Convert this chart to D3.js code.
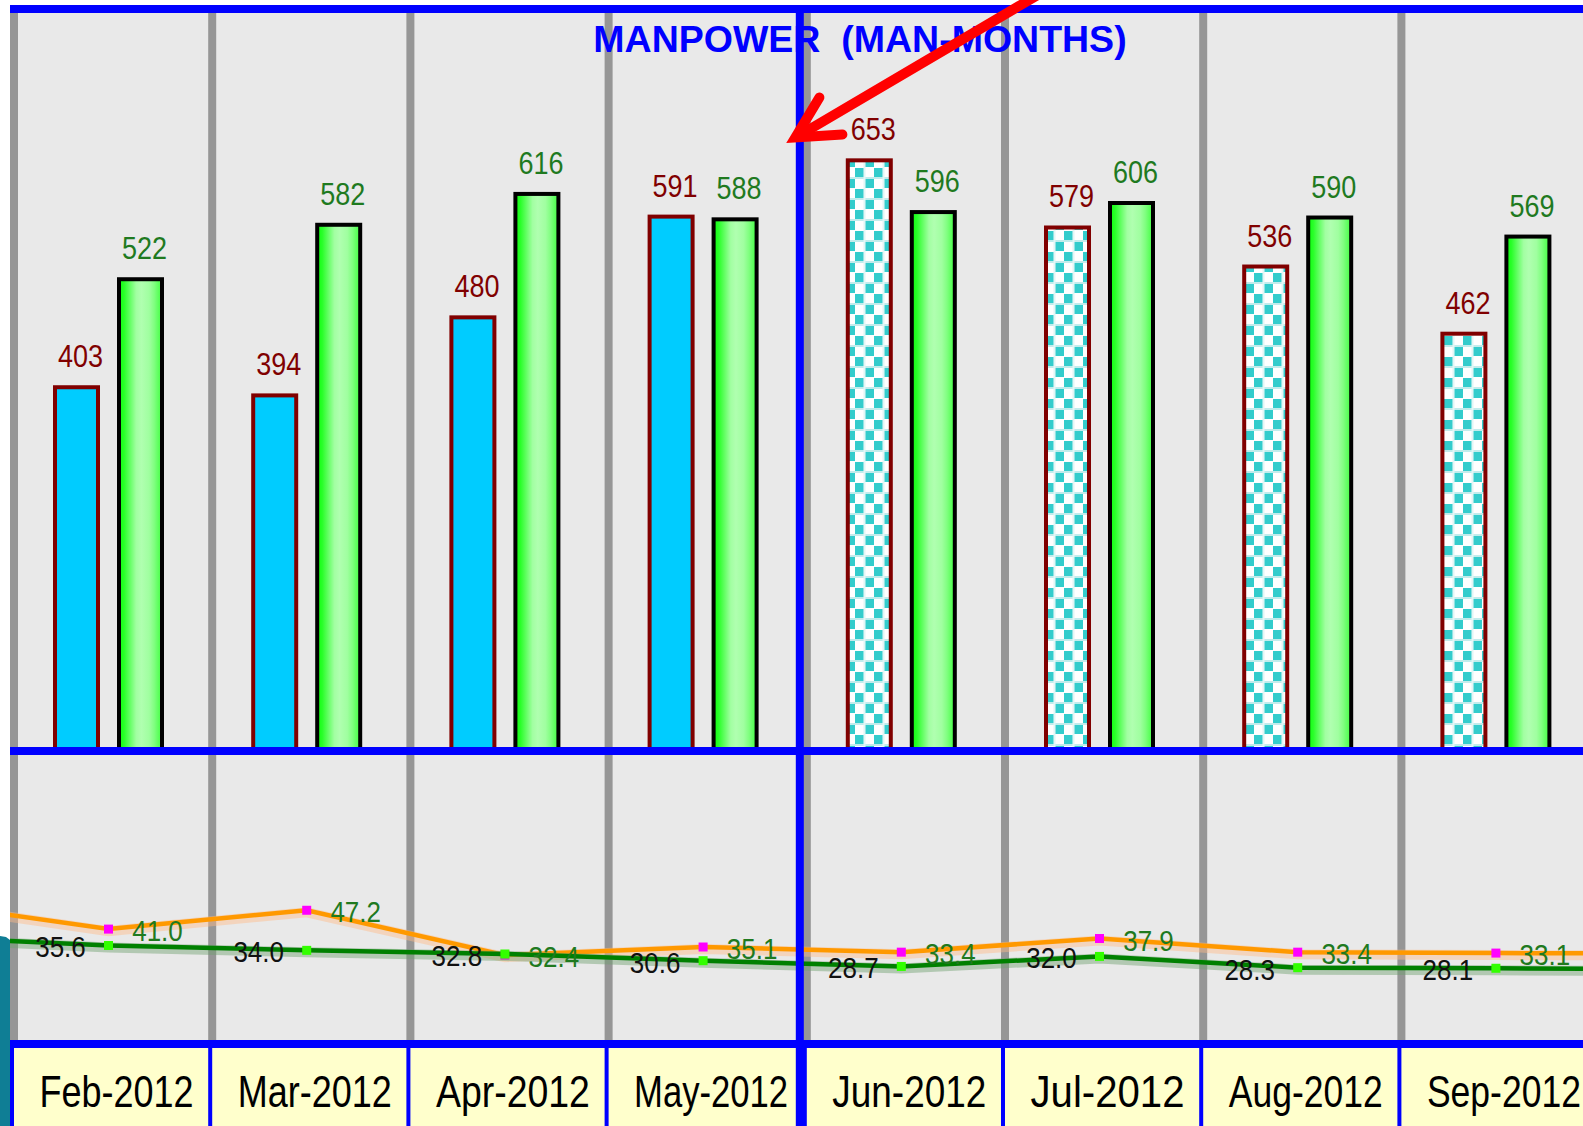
<!DOCTYPE html>
<html>
<head>
<meta charset="utf-8">
<script src="https://cdn.jsdelivr.net/npm/d3@7/dist/d3.min.js"></script>
<style>
  html, body { margin: 0; padding: 0; background: #ffffff; overflow: hidden; }
  svg { display: block; }
  text { font-family: "Liberation Sans", Arial, sans-serif; }
</style>
</head>
<body>
<div id="chart"></div>
<script>
// ---------- DATA ----------
const months = ["Feb-2012", "Mar-2012", "Apr-2012", "May-2012", "Jun-2012", "Jul-2012", "Aug-2012", "Sep-2012"];
const actualValues = [403, 394, 480, 591, 653, 579, 536, 462];      // blue / checker bars (dark red labels)
const planValues = [522, 582, 616, 588, 596, 606, 590, 569];        // green bars
const forecastFrom = "Jun-2012";                                     // checker-pattern bars from here on
const orangeValues = [41.0, 47.2, 32.4, 35.1, 33.4, 37.9, 33.4, 33.1]; // orange line, magenta markers
const greenValues = [35.6, 34.0, 32.8, 30.6, 28.7, 32.0, 28.3, 28.1];  // green line, lime markers
// neighbouring months that only show as line segments entering / leaving the view
const prevMonth = "Jan-2012", nextMonth = "Oct-2012";
const orangeEdge = [50.4, 33.0];
const greenEdge = [38.6, 27.8];
const titleText = "MANPOWER  (MAN-MONTHS)";

// ---------- LAYOUT ----------
const W = 1583, H = 1126;
const plotLeft = 10;
const topLine = 5, midLine = 747, botLine = 1040, lineW = 8;
const step = 198.2, firstX = 14;

const svg = d3.select("#chart").append("svg").attr("width", W).attr("height", H);
const defs = svg.append("defs");

const x0 = d3.scaleBand().domain(months).range([firstX, firstX + step * months.length]);
const allMonths = [prevMonth, ...months, nextMonth];
const xExt = d3.scaleBand().domain(allMonths).range([firstX - step, firstX + step * (months.length + 1)]);
const x1 = d3.scaleBand().domain(["actual", "plan"]).range([39, 150]).paddingInner(17 / 64);
const groupCenter = 94.5;
const yBar = d3.scaleLinear().domain([0, 700]).range([751, 751 - 700 * 0.9076]);
const yLine = d3.scaleLinear().domain([0, 60]).range([1053.6, 871.4]);

// gradient for green bars
const grad = defs.append("linearGradient").attr("id", "greenGrad")
  .attr("x1", "0%").attr("x2", "100%").attr("y1", "0%").attr("y2", "0%");
[[0, "#0cff0c"], [0.12, "#2aff2a"], [0.26, "#66ff66"], [0.4, "#a2ffa2"], [0.52, "#b0ffb0"],
 [0.7, "#a0ffa0"], [0.82, "#80ff80"], [0.92, "#5cff5c"], [1, "#44ff44"]]
  .forEach(([o, c]) => grad.append("stop").attr("offset", o).attr("stop-color", c));

// checker pattern for forecast bars
const pat = defs.append("pattern").attr("id", "checker").attr("patternUnits", "userSpaceOnUse")
  .attr("width", 19).attr("height", 21);
pat.append("rect").attr("width", 19).attr("height", 21).attr("fill", "#ffffff");
pat.append("rect").attr("x", 0).attr("y", 9).attr("width", 19).attr("height", 2).attr("fill", "#c2ecec");
pat.append("rect").attr("x", 8.5).attr("y", 0).attr("width", 2).attr("height", 21).attr("fill", "#e2f6f6");
pat.append("rect").attr("x", 0).attr("y", 0).attr("width", 8.5).attr("height", 9).attr("fill", "#33cccc");
pat.append("rect").attr("x", 10.5).attr("y", 11).attr("width", 8.5).attr("height", 9).attr("fill", "#33cccc");

defs.append("clipPath").attr("id", "plotClip").append("rect")
  .attr("x", plotLeft).attr("y", topLine + lineW).attr("width", W - plotLeft).attr("height", botLine - topLine - lineW);

// backgrounds
svg.append("rect").attr("x", plotLeft).attr("y", topLine).attr("width", W - plotLeft)
  .attr("height", botLine - topLine).attr("fill", "#e9e9e9");
svg.append("rect").attr("x", plotLeft).attr("y", botLine).attr("width", W - plotLeft)
  .attr("height", H - botLine).attr("fill", "#ffffcc");

// teal corner from the slide behind
svg.append("path").attr("d", `M0,936 L6,937 L${plotLeft},940 L${plotLeft},${H} L0,${H} Z`).attr("fill", "#0f7e95");

// vertical gray grid lines
svg.append("g").selectAll("rect").data(months).join("rect")
  .attr("x", d => x0(d) - 4).attr("y", topLine + lineW).attr("width", 8)
  .attr("height", botLine - topLine - lineW).attr("fill", "#969696");

// helper for (vertically stretched) text
function label(g, x, y, txt, size, sy, fill, weight) {
  return g.append("text").attr("transform", `translate(${x},${y}) scale(1,${sy})`)
    .attr("text-anchor", "middle").attr("font-size", size).attr("font-weight", weight || "normal")
    .attr("fill", fill).text(txt);
}

// bars
const barData = [];
months.forEach((m, i) => {
  barData.push({ m, key: "actual", v: actualValues[i], forecast: months.indexOf(m) >= months.indexOf(forecastFrom) });
  barData.push({ m, key: "plan", v: planValues[i] });
});
const bars = svg.append("g");
bars.selectAll("rect").data(barData).join("rect")
  .attr("x", d => x0(d.m) + x1(d.key) + 2)
  .attr("width", x1.bandwidth() - 4)
  .attr("y", d => yBar(d.v) + 2)
  .attr("height", d => yBar(0) - yBar(d.v) - 2)
  .attr("fill", d => d.key === "plan" ? "url(#greenGrad)" : (d.forecast ? "url(#checker)" : "#00ccff"))
  .attr("stroke", d => d.key === "plan" ? "#000000" : "#800000")
  .attr("stroke-width", 4);
const barLabels = svg.append("g");
barData.forEach(d => {
  label(barLabels, x0(d.m) + x1(d.key) + x1.bandwidth() / 2 + 4, yBar(d.v) - 18, d.v, 27, 1.14,
    d.key === "plan" ? "#1f7a1f" : "#800000");
});

// lines
const lineG = svg.append("g").attr("clip-path", "url(#plotClip)");
const orangeSeries = [{ m: prevMonth, v: orangeEdge[0] }, ...months.map((m, i) => ({ m, v: orangeValues[i] })), { m: nextMonth, v: orangeEdge[1] }];
const greenSeries = [{ m: prevMonth, v: greenEdge[0] }, ...months.map((m, i) => ({ m, v: greenValues[i] })), { m: nextMonth, v: greenEdge[1] }];
const lx = d => xExt(d.m) + groupCenter;
const line = d3.line().x(lx).y(d => yLine(d.v));

function drawSeries(series, color, halo, marker) {
  lineG.append("path").attr("d", line(series)).attr("fill", "none").attr("stroke", halo)
    .attr("stroke-width", 10).attr("opacity", 0.45).attr("transform", "translate(0,2)");
  lineG.append("path").attr("d", line(series)).attr("fill", "none").attr("stroke", color)
    .attr("stroke-width", 4.5);
  lineG.selectAll(null).data(series.filter(d => months.includes(d.m))).join("rect")
    .attr("x", d => lx(d) - 4.5).attr("y", d => yLine(d.v) - 4.5)
    .attr("width", 9).attr("height", 9).attr("fill", marker);
}
drawSeries(orangeSeries, "#ff9900", "#ffbb88", "#ff00ff");
drawSeries(greenSeries, "#008000", "#6f9f6f", "#33ff00");

const lineLabels = svg.append("g");
months.forEach((m, i) => {
  const xc = xExt(m) + groupCenter;
  label(lineLabels, xc + 49, yLine(orangeValues[i]) + 12, orangeValues[i].toFixed(1), 26, 1.12, "#1f7a1f");
  label(lineLabels, xc - 48, yLine(greenValues[i]) + 12, greenValues[i].toFixed(1), 26, 1.12, "#111111");
});

// horizontal blue lines
[topLine, midLine, botLine].forEach(y => {
  svg.append("rect").attr("x", plotLeft).attr("y", y).attr("width", W - plotLeft).attr("height", lineW).attr("fill", "#0000ff");
});

// category band separators & labels
const band = svg.append("g");
band.selectAll("rect").data(months).join("rect")
  .attr("x", d => x0(d) - 4).attr("y", botLine + lineW).attr("width", 4)
  .attr("height", H - botLine - lineW).attr("fill", "#0000ff");
months.forEach(m => {
  label(band, x0(m) + 102.5, 1107, m, 36, 1.21, "#000000")
    .attr("textLength", 154).attr("lengthAdjust", "spacingAndGlyphs");
});

// actual / forecast divider
const dividerX = x0(forecastFrom) - 7;
svg.append("rect").attr("x", dividerX - 4).attr("y", topLine).attr("width", 8)
  .attr("height", H - topLine).attr("fill", "#0000ff");

// title
svg.append("text").attr("x", 860).attr("y", 52).attr("text-anchor", "middle")
  .attr("font-size", 37.5).attr("font-weight", "bold").attr("fill", "#0000ff")
  .style("white-space", "pre").text(titleText);

// red arrow pointing at the divider
const tipX = dividerX - 14 + 9.6, tipY = yBar(670) - 5.4;
const arrow = svg.append("g").attr("fill", "none").attr("stroke", "#ff0000").attr("stroke-width", 10);
arrow.append("path").attr("d", `M${tipX + 250},${tipY - 147} L${tipX + 2},${tipY - 1}`).attr("stroke-linecap", "round");
arrow.append("path").attr("d", `M${tipX + 24},${tipY - 40} L${tipX},${tipY} L${tipX + 47},${tipY - 3}`)
  .attr("stroke-linecap", "round").attr("stroke-linejoin", "miter").attr("stroke-miterlimit", 10);
</script>
</body>
</html>
